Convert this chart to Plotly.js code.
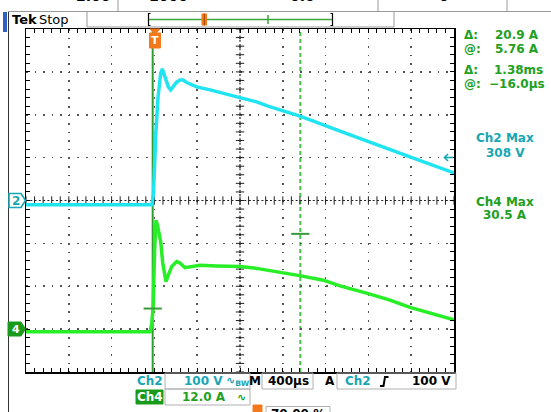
<!DOCTYPE html>
<html>
<head>
<meta charset="utf-8">
<script src="https://cdn.plot.ly/plotly-3.0.1.min.js"></script>
<style>html,body{margin:0;padding:0;background:#fff;}#chart{width:551px;height:412px;}</style>
</head>
<body>
<div id="chart"></div>
<script>
// ---- data (time in microseconds, Ch2 in volts, Ch4 in amps) ----
const ch2Time  = [-1200, -22, -8, 2, 15, 34, 59, 74, 99, 130, 152, 177, 208, 239, 270, 302, 395, 520, 707, 800, 956, 1062, 1361, 1735, 2015, 2389, 2781, 2800];
const ch2Volts = [-10, -10, 20, 110, 164, 241, 297, 307, 288, 265, 258, 265, 276, 281, 281, 275, 265, 258, 246, 242, 230, 220, 197, 162, 137, 102, 66, 62];
const ch4Time  = [-1200, -40, -25, -12, 2, 15, 30, 59, 78, 99, 108, 130, 162, 208, 239, 286, 333, 426, 582, 800, 956, 1064, 1267, 1370, 1579, 1735, 2015, 2202, 2389, 2779, 2800];
const ch4Amps  = [-0.7, -0.7, 1.5, 6, 22, 30.5, 28.9, 24.4, 18.5, 13.7, 13.3, 15.1, 17.5, 18.9, 18.5, 17.2, 17.5, 17.9, 17.7, 17.5, 17.0, 16.5, 15.6, 14.9, 13.7, 12.1, 9.8, 8.1, 6.1, 2.7, 2.6];
const cursorTime = [-16, 1364];
const cursorAmps = [5.76, 26.66];
const readoutLabels = ["Δ:", "@:", "Δ:", "@:"];
const readoutValues = ["20.9 A", "5.76 A", "1.38ms", "−16.0µs"];
const ch2MaxText = ["Ch2 Max", "308 V"];
const ch4MaxText = ["Ch4 Max", "30.5 A"];
const timeRange = [-1200, 2800];   // 400 µs/div, 10 div
const voltRange = [-400, 400];     // 100 V/div, 8 div
const ampRange  = [-12, 84];       // 12 A/div, ground 3 div below centre

// ---- geometry helpers (pixels -> paper) ----
const L = 26, R = 454, T = 29, B = 372;
const px = x => (x - L) / (R - L);
const py = y => (B - y) / (B - T);
const TEAL = '#17a6b3', GREEN = '#22a022', ORANGE = '#f27a1c', FONT = 'DejaVu Sans';
const shapes = [], ann = [];
function rectP(x0, y0, x1, y1, fill, line, lw) {
  shapes.push({type:'rect', xref:'paper', yref:'paper', x0:px(x0), x1:px(x1), y0:py(y1), y1:py(y0),
    fillcolor: fill || 'rgba(0,0,0,0)', line:{color: line || 'rgba(0,0,0,0)', width: lw === undefined ? 1 : lw}, layer:'above'});
}
function pathP(pts, close, fill, line, lw) {
  let d = pts.map((p, i) => (i ? 'L' : 'M') + px(p[0]) + ',' + py(p[1])).join(' ') + (close ? ' Z' : '');
  shapes.push({type:'path', xref:'paper', yref:'paper', path:d, fillcolor: fill || 'rgba(0,0,0,0)',
    line:{color: line || 'rgba(0,0,0,0)', width: lw === undefined ? 1 : lw}, layer:'above'});
}
function txt(x, y, text, color, size, xanchor) {
  ann.push({xref:'paper', yref:'paper', x:px(x), y:py(y), text:text, showarrow:false,
    xanchor: xanchor || 'center', yanchor:'middle', font:{family:FONT, size:size || 12, color:color || '#000'}});
}

// ---- frame / top bar ----
pathP([[8.5,12],[8.5,412]], false, null, '#333', 1);
rectP(3, 12, 7, 32, '#2f5fc0', null, 0);
pathP([[8,11.5],[551,11.5]], false, null, '#999', 1);
pathP([[87,12],[87,27]], false, null, '#999', 1);
pathP([[394,12],[394,27]], false, null, '#999', 1);
pathP([[87,27],[394,27]], false, null, '#999', 1);
[118, 378, 507].forEach(x => pathP([[x,0],[x,11]], false, null, '#999', 1));
[[93,'2.00'],[168,'1000'],[302,'0.0'],[444,'0']].forEach(p => ann.push({xref:'paper', yref:'paper', x:px(p[0]), y:py(6.4),
  text:'<b>' + p[1] + '</b>', showarrow:false, xanchor:'center', yanchor:'bottom', font:{family:FONT, size:14, color:'#000'}}));
txt(10, 19.5, '<b>Tek</b>', '#000', 13, 'left');
txt(37, 19.5, 'Stop', '#000', 13, 'left');
pathP([[150.5,13.5],[148.5,13.5],[148.5,25.5],[150.5,25.5]], false, null, '#000', 1.2);
pathP([[330.5,13.5],[332.5,13.5],[332.5,25.5],[330.5,25.5]], false, null, '#000', 1.2);
pathP([[149,19.5],[332,19.5]], false, null, '#3aa53a', 1.5);
rectP(201.5, 13.5, 207, 25.5, ORANGE, null, 0);
pathP([[204.3,13.5],[204.3,25.5]], false, null, '#a04400', 1);
pathP([[268,15],[268,24]], false, null, '#3aa53a', 1.5);

// ---- graticule extras ----
shapes.push({type:'line', xref:'x', yref:'y', x0:timeRange[0], x1:timeRange[1], y0:0, y1:0, line:{color:'#222', width:1.2, dash:'2px,2.28px'}, layer:'between'});
shapes.push({type:'line', xref:'x', yref:'y', x0:800, x1:800, y0:voltRange[0], y1:voltRange[1], line:{color:'#222', width:1.2, dash:'2px,2.29px'}, layer:'between'});
const crossX = [], crossXY = [], crossY = [], crossYX = [];
for (let t = timeRange[0]; t <= timeRange[1]; t += 80) { crossX.push(t); crossXY.push(0); }
for (let v = voltRange[0]; v <= voltRange[1]; v += 20) { crossY.push(v); crossYX.push(800); }

// cursors
shapes.push({type:'line', xref:'x', yref:'paper', x0:cursorTime[0], x1:cursorTime[0], y0:0, y1:1, line:{color:'#2f9e2f', width:2}, layer:'between'});
shapes.push({type:'line', xref:'x', yref:'paper', x0:cursorTime[1], x1:cursorTime[1], y0:0, y1:1, line:{color:'#4cbb4c', width:2, dash:'4px,3px'}, layer:'between'});

// level markers
pathP([[9,193.5],[21,193.5],[25.5,200.5],[21,207.5],[9,207.5]], true, '#fff', TEAL, 1.6);
txt(15.5, 200.8, '<b>2</b>', TEAL, 12);
pathP([[8,322],[21,322],[25.5,329],[21,336],[8,336]], true, '#1a9a1a', '#1a9a1a', 1);
txt(15.5, 329.2, '<b>4</b>', '#fff', 11);
// trigger marker
pathP([[150,29],[160,29],[155,34]], true, ORANGE, ORANGE, 1);
rectP(149.5, 33, 160.5, 48, ORANGE, ORANGE, 1);
txt(155, 40.8, '<b>T</b>', '#fff', 11);
// trigger level arrow (right)
pathP([[444.5,157.5],[453,157.5]], false, null, TEAL, 1.6);
pathP([[448,154],[444.5,157.5],[448,161]], false, null, TEAL, 1.6);

// ---- right readouts ----
const rY = [35, 48.5, 70, 83.5];
const rX = [541, 541, 545, 547];
readoutLabels.forEach((s, i) => txt(462, rY[i], '<b>' + s + '</b>', GREEN, 12, 'left'));
readoutValues.forEach((s, i) => txt(rX[i], rY[i], '<b>' + s + '</b>', GREEN, 12, 'right'));
txt(505, 138, '<b>' + ch2MaxText[0] + '</b>', TEAL, 12);
txt(505, 152.5, '<b>' + ch2MaxText[1] + '</b>', TEAL, 12);
txt(505, 201.5, '<b>' + ch4MaxText[0] + '</b>', GREEN, 12);
txt(505, 215, '<b>' + ch4MaxText[1] + '</b>', GREEN, 12);

// ---- bottom readouts ----
txt(150, 381, '<b>Ch2</b>', TEAL, 12);
rectP(165, 373, 250, 389, null, '#b0b0b0', 1);
txt(203.5, 381, '<b>100 V</b>', TEAL, 12);
txt(238, 381, '<b>∿<sub>BW</sub></b>', TEAL, 11);
txt(255, 381, '<b>M</b>', '#000', 12);
rectP(262, 373, 313, 389, null, '#b0b0b0', 1);
txt(288, 381, '<b>400µs</b>', '#000', 12);
txt(330, 381, '<b>A</b>', '#000', 12);
rectP(337, 373, 456, 389, null, '#b0b0b0', 1);
txt(358, 381, '<b>Ch2</b>', TEAL, 12);
pathP([[380,386],[383.5,386],[385,377],[388.5,377]], false, null, '#000', 2);
txt(453, 381, '<b>100 V</b>', '#000', 12, 'right');
rectP(136, 390, 163, 404, '#1a9a1a', '#1a9a1a', 1);
txt(149.5, 397, '<b>Ch4</b>', '#fff', 12);
rectP(165, 389, 250, 405, null, '#b0b0b0', 1);
txt(203.5, 397, '<b>12.0 A</b>', GREEN, 12);
txt(241, 397, '<b>∿</b>', GREEN, 11);
rectP(253, 405, 262, 414, ORANGE, ORANGE, 1);
rectP(266, 406.5, 330, 414, null, '#b0b0b0', 1);
txt(298, 414, '<b>70.00 %</b>', '#000', 12);

// ---- traces ----
const traces = [
  {x: crossX, y: crossXY, mode:'markers', hoverinfo:'skip', marker:{symbol:'line-ns', size:6, color:'#222', line:{color:'#222', width:1}}},
  {x: crossYX, y: crossY, mode:'markers', hoverinfo:'skip', marker:{symbol:'line-ew', size:6, color:'#222', line:{color:'#222', width:1}}},
  {x: ch2Time, y: ch2Volts, mode:'lines', line:{color:'#20e4f2', width:3.5}, yaxis:'y'},
  {x: ch4Time, y: ch4Amps, mode:'lines', line:{color:'#27ee27', width:3.5}, yaxis:'y2'},
  {x: cursorTime, y: cursorAmps, mode:'markers', yaxis:'y2', hoverinfo:'skip', marker:{symbol:'line-ew', size:13, color:'#3a9a3a', line:{color:'#3a9a3a', width:2}}}
];

const layout = {
  width: 551, height: 412,
  margin: {l: L, r: 551 - R, t: T, b: 412 - B, pad: 0},
  paper_bgcolor: '#fff', plot_bgcolor: '#fff', showlegend: false,
  xaxis: {range: timeRange, tick0: -1200, dtick: 400, showticklabels: false, zeroline: false,
    showgrid: true, gridcolor: '#555', gridwidth: 1.6, griddash: '1.6px,6.96px',
    ticks: 'inside', ticklen: 4, tickcolor: '#000', tickwidth: 1,
    showline: true, linecolor: '#000', linewidth: 1.5, mirror: 'ticks',
    minor: {tick0: -1200, dtick: 80, ticks: 'inside', ticklen: 4, tickcolor: '#000', tickwidth: 1, showgrid: false}},
  yaxis: {range: voltRange, tick0: -400, dtick: 100, showticklabels: false, zeroline: false,
    showgrid: true, gridcolor: '#555', gridwidth: 1.6, griddash: '1.6px,6.975px',
    ticks: 'inside', ticklen: 4, tickcolor: '#000', tickwidth: 1,
    showline: true, linecolor: '#000', linewidth: 1.5, mirror: 'ticks',
    minor: {tick0: -400, dtick: 20, ticks: 'inside', ticklen: 4, tickcolor: '#000', tickwidth: 1, showgrid: false}},
  yaxis2: {range: ampRange, overlaying: 'y', visible: false},
  shapes: shapes,
  annotations: ann
};

Plotly.newPlot('chart', traces, layout, {staticPlot: true, displayModeBar: false});
</script>
</body>
</html>
